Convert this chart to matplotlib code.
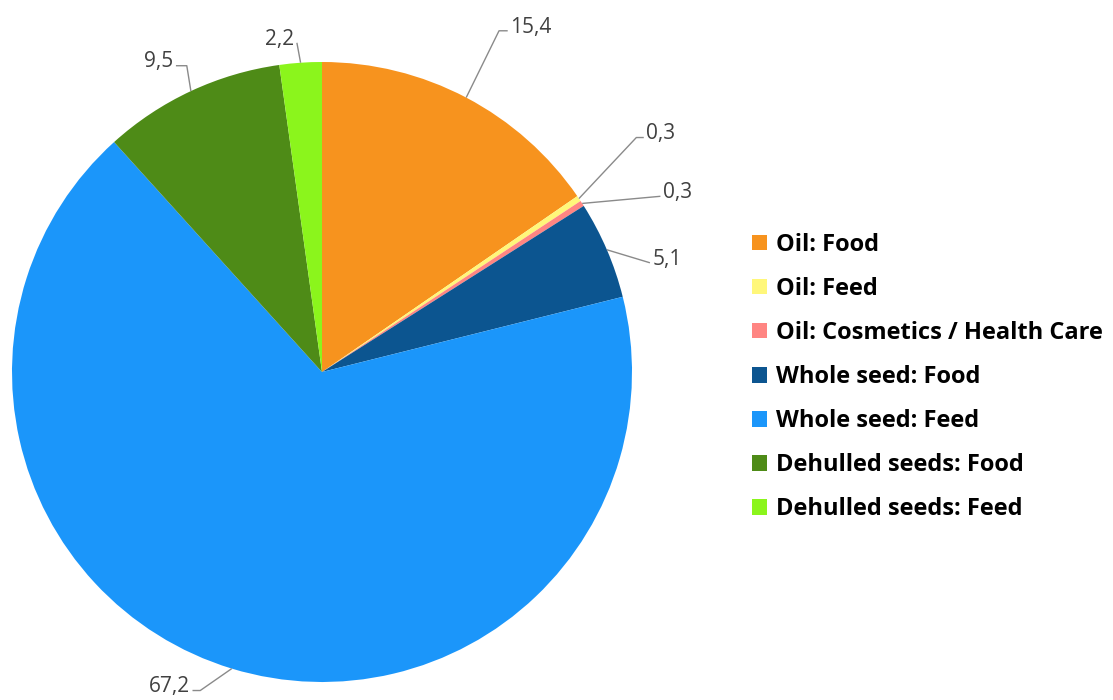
import numpy as np
import matplotlib
matplotlib.use("Agg")
import matplotlib.pyplot as plt
from matplotlib.patches import Patch

# Uso de la linaza por destino (%)
categorias = ["Oil: Food", "Oil: Feed", "Oil: Cosmetics / Health Care",
              "Whole seed: Food", "Whole seed: Feed",
              "Dehulled seeds: Food", "Dehulled seeds: Feed"]
valores = [15.4, 0.3, 0.3, 5.1, 67.2, 9.5, 2.2]
etiquetas = ["15,4", "0,3", "0,3", "5,1", "67,2", "9,5", "2,2"]
colores = ["#F7931E", "#FFF77A", "#FF8582", "#0C5590",
           "#1B96FA", "#4E8B17", "#8BF51C"]

# posicion de las etiquetas: radio del codo, giro respecto al centro de la porcion, cola horizontal
radio_codo = [1.24, 1.265, 1.23, 1.115, 1.10, 1.08, 1.065]
giro_codo = [0.3, 2.7, -5.5, -4.8, -4.0, -1.2, 0.4]
cola = [0.028, 0.024, 0.0, 0.0, 0.025, 0.035, 0.0]

plt.rcParams['font.family'] = ['Open Sans', 'DejaVu Sans']

fig = plt.figure(figsize=(11.13, 7), dpi=100)
ax = fig.add_axes([12 / 1113, 18 / 700, 620 / 1113, 620 / 700])
cunas, _ = ax.pie(valores, colors=colores, startangle=90, counterclock=False,
                  radius=1.0, wedgeprops=dict(linewidth=0))
ax.set_xlim(-1, 1)
ax.set_ylim(-1, 1)
ax.set_aspect('equal')
ax.axis('off')

# lineas guia y etiquetas de valor
for cuna, txt, r, g, c in zip(cunas, etiquetas, radio_codo, giro_codo, cola):
    medio = np.deg2rad((cuna.theta1 + cuna.theta2) / 2)
    x0, y0 = np.cos(medio), np.sin(medio)
    ang = medio + np.deg2rad(g)
    x1, y1 = r * np.cos(ang), r * np.sin(ang)
    lado = 1 if x1 >= 0 else -1
    x2 = x1 + lado * c
    ax.plot([x0, x1, x2], [y0, y1, y1], color="#8a8a8a", lw=1.0,
            clip_on=False, solid_capstyle='butt')
    ax.text(x2 + lado * 0.008, y1 + 0.012, txt, fontsize=15, color="#404040",
            ha='left' if lado > 0 else 'right', va='center')

manijas = [Patch(facecolor=col, edgecolor='none') for col in colores]
fig.legend(manijas, categorias, loc='center left',
           bbox_to_anchor=(752 / 1113, 1 - 377 / 700), frameon=False,
           prop=dict(weight='bold', size=17), handlelength=0.64,
           handleheight=0.64, handletextpad=0.36, labelspacing=0.85,
           borderpad=0, borderaxespad=0)

fig.savefig("out.png", dpi=100)
